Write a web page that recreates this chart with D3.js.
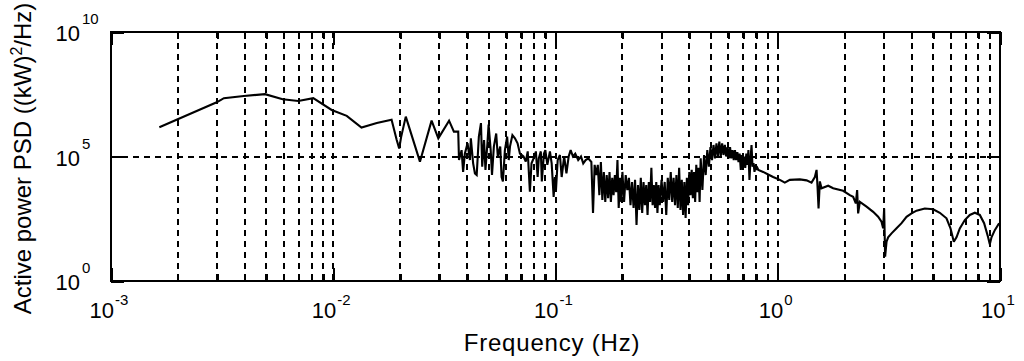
<!DOCTYPE html>
<html><head><meta charset="utf-8">
<script src="https://cdn.jsdelivr.net/npm/d3@7/dist/d3.min.js"></script>
<style>body{margin:0;background:#fff;overflow:hidden}svg{display:block}</style>
</head><body><svg id="c" width="1024" height="361"></svg>
<script>
// ---- data ----
const freqHz = [
  1.65e-3, 2.99e-3, 3.22e-3, 3.96e-3, 4.93e-3, 5.92e-3, 6.96e-3, 8.13e-3, 9.84e-3, 1.15e-2,
  1.34e-2, 1.57e-2, 1.83e-2, 1.93e-2, 1.98e-2, 2.02e-2, 2.12e-2, 2.455e-2, 2.77e-2, 2.97e-2,
  3.32e-2, 3.49e-2, 3.65e-2, 0.0368, 0.0378, 0.0384, 0.0391, 0.0402, 0.0412, 0.0416,
  0.0426, 0.0434, 0.0442, 0.0452, 0.0462, 0.0468, 0.0477, 0.0484, 0.0494, 0.0500,
  0.0511, 0.0518, 0.0528, 0.0541, 0.0550, 0.0564, 0.0572, 0.0580, 0.0592, 0.0606,
  0.0616, 0.0624, 0.0640, 0.0657, 0.0675, 0.0692, 0.0718, 0.0735, 0.0750, 0.0767,
  0.0780, 0.0804, 0.0816, 0.0831, 0.0841, 0.0859, 0.0868, 0.0887, 0.0900, 0.0919,
  0.0944, 0.0961, 0.0981, 0.0994, 0.1005, 0.1023, 0.1047, 0.1066, 0.1094, 0.1120,
  0.1146, 0.1170, 0.1198, 0.1227, 0.1265, 0.1302, 0.1333, 0.1367, 0.1404,
  // dense band 0.145 - 0.82 Hz
  0.1450, 0.1475, 0.1500, 0.1525, 0.1550, 0.1575, 0.1600, 0.1625, 0.1650, 0.1675, 0.1700,
  0.1725, 0.1750, 0.1775, 0.1800, 0.1825, 0.1850, 0.1875, 0.1900, 0.1925, 0.1950, 0.1975,
  0.2000, 0.2035, 0.2070, 0.2105, 0.2140, 0.2175, 0.2210, 0.2245, 0.2280, 0.2315,
  0.2350, 0.2385, 0.2420, 0.2455, 0.2490, 0.2525, 0.2560, 0.2595, 0.2630, 0.2665,
  0.2700, 0.2735, 0.2770, 0.2805, 0.2840, 0.2875, 0.2910, 0.2945,
  0.300, 0.305, 0.310, 0.315, 0.320, 0.325, 0.330, 0.335, 0.340, 0.345,
  0.350, 0.355, 0.360, 0.365, 0.370, 0.375, 0.380, 0.385, 0.390, 0.395,
  0.400, 0.405, 0.410, 0.415, 0.420, 0.425, 0.430, 0.435, 0.440, 0.445,
  0.450, 0.458, 0.466, 0.474, 0.482, 0.490, 0.498, 0.506, 0.514, 0.522,
  0.530, 0.538, 0.546, 0.554, 0.562, 0.570, 0.578, 0.586, 0.594, 0.602,
  0.610, 0.618, 0.626, 0.634, 0.642, 0.650, 0.658, 0.666, 0.674, 0.682,
  0.690, 0.698, 0.706, 0.714, 0.722, 0.730, 0.738, 0.746, 0.754, 0.762,
  0.770, 0.778, 0.786, 0.794, 0.802, 0.810, 0.818,
  // smooth high-frequency part
  0.8596, 0.9053, 0.9535, 1.022, 1.076, 1.133, 1.257, 1.348, 1.419, 1.469,
  1.495, 1.510, 1.526, 1.547, 1.574, 1.686, 1.775, 1.969, 2.110, 2.184,
  2.245, 2.276, 2.300, 2.341, 2.509, 2.687, 2.829, 2.930, 2.980, 3.011,
  3.042, 3.087, 3.138, 3.251, 3.424, 3.606, 3.797, 3.999, 4.211, 4.588,
  5.002, 5.360, 5.744, 5.988, 6.197, 6.372, 6.594, 6.945, 7.314, 7.703,
  8.113, 8.482, 8.841, 8.997, 9.158, 9.476, 9.908
];
const psd = [
  1.5e6, 1.5e7, 2.2e7, 2.7e7, 3.2e7, 2.0e7, 1.7e7, 2.2e7, 7.4e6, 4.3e6,
  1.45e6, 2.2e6, 3.0e6, 4.6e5, 2.1e5, 6.0e5, 4.0e6, 6.2e4, 2.75e6, 5.4e5,
  2.75e6, 1.0e6, 1.0e6, 7.2e4, 1.8e5, 2.4e4, 1.3e5, 3.4e5, 7.2e4, 5.4e5,
  5.3e4, 2.1e4, 1.8e4, 6.3e5, 2.2e6, 3.9e4, 4.6e5, 2.9e4, 3.4e5, 1.9e6,
  1.8e5, 1.8e4, 2.5e5, 8.4e5, 1.0e5, 2.5e5, 1.5e4, 1.0e4, 1.8e5, 6.3e5,
  7.2e4, 2.5e5, 7.2e5, 5.4e5, 3.4e5, 1.3e5, 1.0e5, 6.2e4, 1.6e5, 3.9e3,
  5.3e4, 1.0e5, 1.6e5, 1.5e4, 8.4e4, 1.6e5, 1.0e4, 1.3e5, 1.8e5, 4.6e4,
  1.6e5, 5.3e4, 2.4e3, 1.5e4, 4.5e3, 7.2e4, 1.15e5, 1.5e4, 1.0e5, 2.1e4,
  1.0e5, 1.8e5, 1.0e5, 1.3e5, 7.2e4, 1.0e5, 5.3e4, 7.2e4, 8.4e4,
  // dense band
  6.0e4, 5.4e2, 4.6e4, 1.8e4, 4.6e4, 2.8e3, 6.0e4, 1.8e3, 2.4e4, 1.5e3, 1.8e4,
  2.1e3, 2.4e4, 1.5e3, 1.4e4, 2.8e3, 1.8e4, 3.7e3, 7.2e4, 8.5e2, 1.4e4, 1.5e3,
  2.4e4, 1.5e3, 1.8e4, 4.5e3, 1.4e4, 1.1e3, 9.5e3, 8.5e2, 1.15e4, 1.8e2,
  7.2e3, 7.1e2, 1.4e4, 5.4e2, 9.5e3, 1.1e3, 7.2e3, 4.5e2, 9.5e3, 1.5e3,
  3.5e4, 1.1e3, 7.2e3, 8.5e2, 9.5e3, 5.4e2, 7.2e3, 1.1e3,
  1.15e4, 1.5e3, 9.5e3, 4.5e2, 1.4e4, 1.8e3, 2.4e4, 1.5e3, 1.4e4, 1.1e3,
  1.8e4, 8.5e2, 3.5e4, 7.1e2, 1.15e4, 4.5e2, 9.5e3, 3.4e2, 1.4e4, 1.1e3,
  2.4e4, 2.8e3, 2.9e4, 2.1e3, 2.4e4, 1.5e3, 4.6e4, 3.7e3, 3.5e4, 1.5e3,
  8.4e4, 4.5e3, 1.15e5, 1.8e4, 1.8e5, 3.9e4, 2.4e5, 7.2e4, 2.9e5, 8.4e4,
  3.4e5, 1.0e5, 4.0e5, 1.0e5, 3.4e5, 1.15e5, 2.9e5, 1.0e5, 2.4e5, 8.4e4,
  2.4e5, 8.4e4, 1.8e5, 7.2e4, 1.8e5, 7.2e4, 1.5e5, 6.0e4, 1.3e5, 2.9e4,
  1.15e5, 4.6e4, 1.0e5, 3.5e4, 1.3e5, 4.6e4, 1.8e5, 1.15e4, 7.2e4, 2.9e5,
  3.9e4, 5.4e4, 2.4e4, 4.6e4, 2.9e4, 3.5e4, 2.9e4,
  // smooth part
  2.4e4, 1.9e4, 1.5e4, 1.15e4, 8.9e3, 1.15e4, 1.2e4, 1.1e4, 8.9e3, 1.5e4,
  2.9e4, 6.2e3, 8.2e2, 1.0e4, 5.3e3, 6.7e3, 5.3e3, 4.2e3, 2.8e3, 2.4e3,
  1.3e3, 4.5e3, 5.2e2, 1.5e3, 9.7e2, 6.0e2, 3.8e2, 2.4e2, 1.3e2, 8.2e2,
  9.5, 38, 57, 82, 1.3e2, 2.1e2, 3.8e2, 5.2e2, 6.7e2, 8.2e2,
  7.6e2, 5.5e2, 3.3e2, 1.3e2, 38, 57, 1.3e2, 2.8e2, 4.5e2, 5.5e2,
  4.5e2, 2.1e2, 57, 30, 57, 1.1e2, 2.1e2
];
const xTickExponents = [-3, -2, -1, 0, 1];
const yTickExponents = [0, 5, 10];
const xAxisLabel = "Frequency (Hz)";
const yAxisLabelParts = ["Active power PSD ((kW)", "2", "/Hz)"];

// ---- layout ----
const FONT = "'Liberation Sans', Arial, Helvetica, sans-serif";
const M = {left: 111, right: 1000, top: 32, bottom: 281};
const x = d3.scaleLog().domain([1e-3, 1e1]).range([M.left, M.right]);
const y = d3.scaleLog().domain([1e0, 1e10]).range([M.bottom, M.top]);
const svg = d3.select("#c");
svg.append("rect").attr("width", 1024).attr("height", 361).attr("fill", "#fff");

const allX = x.ticks().filter(v => v > 1e-3 * 1.001 && v < 1e1 * 0.999);
const majorX = xTickExponents.map(e => Math.pow(10, e));
const yVals = yTickExponents.map(e => Math.pow(10, e));

// grid
const grid = svg.append("g").attr("stroke", "#000").attr("stroke-width", 2)
  .attr("stroke-dasharray", "6,5").attr("shape-rendering", "crispEdges");
grid.selectAll("line.gx").data(allX).join("line").attr("class", "gx")
  .attr("x1", d => Math.round(x(d))).attr("x2", d => Math.round(x(d)))
  .attr("y1", M.top).attr("y2", M.bottom);
grid.selectAll("line.gy").data(yVals.filter(v => v > 1 && v < 1e10)).join("line").attr("class", "gy")
  .attr("y1", d => Math.round(y(d))).attr("y2", d => Math.round(y(d)))
  .attr("x1", M.left).attr("x2", M.right);

// data line
svg.append("defs").append("clipPath").attr("id", "clip").append("rect")
  .attr("x", M.left).attr("y", M.top).attr("width", M.right - M.left).attr("height", M.bottom - M.top);
const n = Math.min(freqHz.length, psd.length);
const pts = d3.range(n).map(i => [freqHz[i], psd[i]]);
const line = d3.line().x(d => x(d[0])).y(d => y(d[1]));
svg.append("path").datum(pts)
  .attr("clip-path", "url(#clip)")
  .attr("d", line).attr("fill", "none").attr("stroke", "#000")
  .attr("stroke-width", 2.1).attr("stroke-linejoin", "miter").attr("stroke-miterlimit", 2.5);

// ticks via d3 axes (inward)
const tickG = svg.append("g").attr("shape-rendering", "crispEdges");
function inwardAxis(axisFn, scale, vals, size, transform) {
  const g = tickG.append("g").attr("transform", transform)
    .call(axisFn(scale).tickValues(vals).tickSize(size).tickFormat(""));
  g.select(".domain").remove();
  g.selectAll(".tick line").attr("stroke", "#000").attr("stroke-width", 2);
}
const minorX = allX.filter(v => !majorX.some(m => Math.abs(m - v) / m < 1e-6));
inwardAxis(d3.axisBottom, x, minorX, -7, `translate(0,${M.bottom})`);
inwardAxis(d3.axisBottom, x, majorX, -13, `translate(0,${M.bottom})`);
inwardAxis(d3.axisTop, x, minorX, -7, `translate(0,${M.top})`);
inwardAxis(d3.axisTop, x, majorX, -13, `translate(0,${M.top})`);
inwardAxis(d3.axisLeft, y, yVals, -13, `translate(${M.left},0)`);
inwardAxis(d3.axisRight, y, yVals, -13, `translate(${M.right},0)`);

// box
svg.append("rect").attr("x", M.left).attr("y", M.top)
  .attr("width", M.right - M.left).attr("height", M.bottom - M.top)
  .attr("fill", "none").attr("stroke", "#000").attr("stroke-width", 2)
  .attr("shape-rendering", "crispEdges");

// x tick labels
const xl = svg.append("g").attr("font-family", FONT).attr("fill", "#000");
xTickExponents.forEach(e => {
  const t = xl.append("text").attr("x", x(Math.pow(10, e)) - 2).attr("y", 318)
    .attr("text-anchor", "middle");
  t.append("tspan").attr("font-size", 22).text("10");
  t.append("tspan").attr("font-size", 15).attr("dy", -13).attr("dx", 1).text(String(e));
});
// y tick labels
yTickExponents.forEach(e => {
  const yy = y(Math.pow(10, e));
  xl.append("text").attr("x", 80).attr("y", yy + 9).attr("text-anchor", "end")
    .attr("font-size", 22).text("10");
  xl.append("text").attr("x", 82).attr("y", yy - 8).attr("text-anchor", "start")
    .attr("font-size", 15).text(String(e));
});

// axis labels
svg.append("text").attr("x", 552).attr("y", 351).attr("text-anchor", "middle")
  .attr("font-family", FONT).attr("font-size", 24).attr("letter-spacing", 0.8)
  .text(xAxisLabel);
const yl = svg.append("text").attr("transform", "translate(31,158.5) rotate(-90)")
  .attr("text-anchor", "middle").attr("font-family", FONT).attr("font-size", 24);
yl.append("tspan").text(yAxisLabelParts[0]);
yl.append("tspan").attr("font-size", 16).attr("dy", -9).text(yAxisLabelParts[1]);
yl.append("tspan").attr("dy", 9).text(yAxisLabelParts[2]);
</script></body></html>
